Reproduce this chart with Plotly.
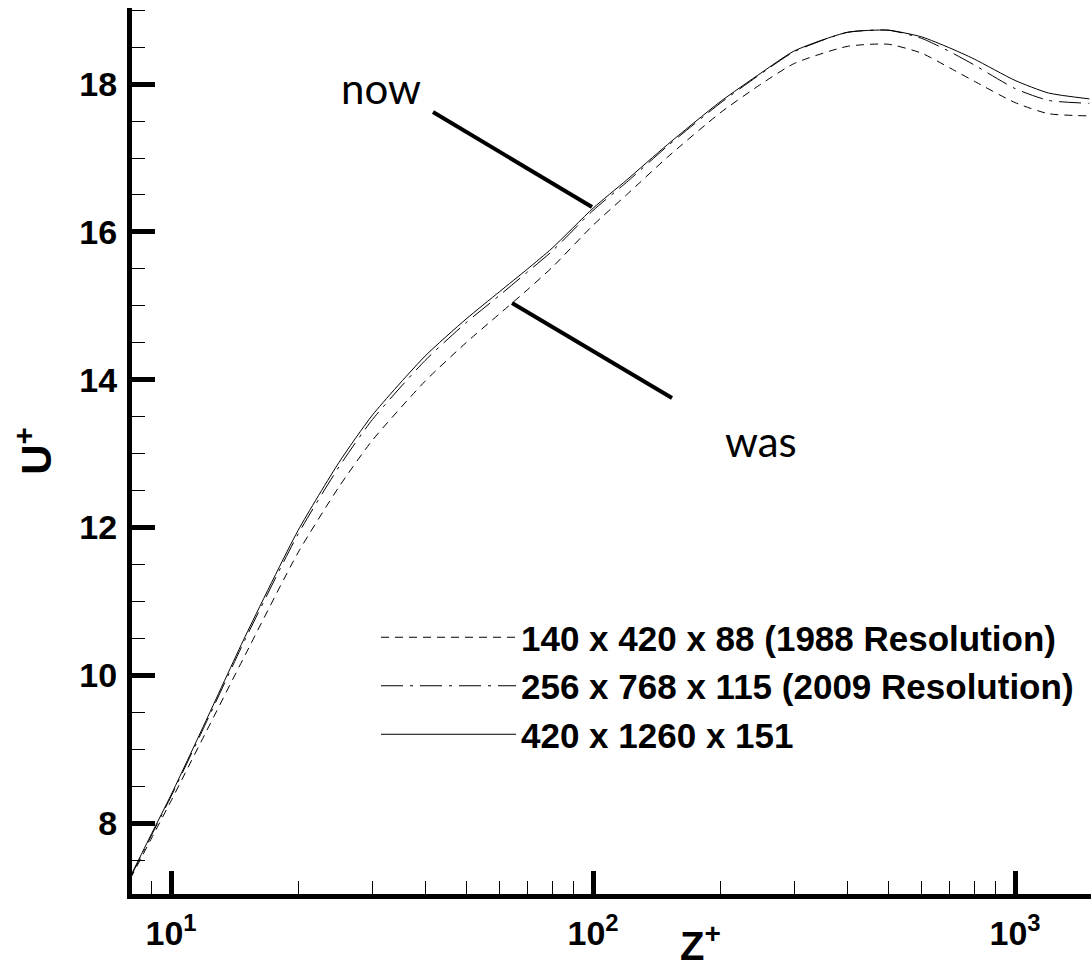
import plotly.graph_objects as go

# ---- data ----
z_plus = [8, 9, 10, 12, 15, 20, 25, 30, 40, 50, 60, 70, 80, 100, 120, 150,
          200, 250, 300, 400, 500, 600, 700, 800, 1000, 1200, 1500]
u_res_1988 = [7.24, 7.80, 8.30, 9.19, 10.28, 11.66, 12.55, 13.18, 13.98, 14.50,
              14.89, 15.22, 15.52, 16.09, 16.50, 17.01, 17.61, 18.00, 18.28,
              18.51, 18.54, 18.42, 18.22, 18.04, 17.75, 17.60, 17.57]
u_res_2009 = [7.26, 7.84, 8.36, 9.31, 10.49, 11.91, 12.82, 13.46, 14.26, 14.77,
              15.14, 15.46, 15.74, 16.29, 16.67, 17.16, 17.74, 18.14, 18.44,
              18.70, 18.73, 18.62, 18.44, 18.26, 17.94, 17.78, 17.74]
u_res_420 = [7.27, 7.86, 8.38, 9.34, 10.53, 11.96, 12.88, 13.52, 14.32, 14.82,
             15.19, 15.50, 15.78, 16.32, 16.70, 17.18, 17.76, 18.15, 18.45,
             18.70, 18.73, 18.64, 18.49, 18.34, 18.05, 17.88, 17.80]
series_names = ["140 x 420 x 88 (1988 Resolution)",
                "256 x 768 x 115 (2009 Resolution)",
                "420 x 1260 x 151"]
x_tickvals = [10, 100, 1000]
x_ticktext = ["10<sup>1</sup>", "10<sup>2</sup>", "10<sup>3</sup>"]
x_minor_vals = [9, 20, 30, 40, 50, 60, 70, 80, 90,
                200, 300, 400, 500, 600, 700, 800, 900]
y_tickvals = [8, 10, 12, 14, 16, 18]

W, H = 1091, 974
L, R, T, B = 132, 0, 8, 80
PW, PH = W - L - R, H - T - B


def px(x):
    return (x - L) / PW


def py(y):
    return (H - B - y) / PH


FONT = "Liberation Sans, Arial, sans-serif"

fig = go.Figure()
styles = [dict(dash="8px,6px"), dict(dash="22px,7px,3px,7px"), dict(dash="solid")]
for name, u, st in zip(series_names, [u_res_1988, u_res_2009, u_res_420], styles):
    fig.add_trace(go.Scatter(
        x=z_plus, y=u, mode="lines", name=name,
        line=dict(color="black", width=1, shape="spline", smoothing=0.6, **st),
    ))

tick_font = dict(family=FONT, size=34, color="black", weight="bold")

fig.update_layout(
    width=W, height=H,
    margin=dict(l=L, r=R, t=T, b=B, autoexpand=False),
    paper_bgcolor="white", plot_bgcolor="white",
    showlegend=True,
    legend=dict(
        x=px(376), y=py(608), xanchor="left", yanchor="top",
        font=dict(family=FONT, size=35, color="black", weight="bold"),
        bgcolor="rgba(0,0,0,0)", itemwidth=135, traceorder="normal",
    ),
    xaxis=dict(
        type="log", range=[0.9075, 3.180],
        showline=True, linewidth=5, linecolor="black", mirror=False,
        showgrid=False, zeroline=False,
        tickmode="array", tickvals=x_tickvals, ticktext=x_ticktext,
        ticks="inside", ticklen=23, tickwidth=5, tickcolor="black",
        tickfont=tick_font, ticklabelstandoff=5,
        minor=dict(tickmode="array", tickvals=x_minor_vals, ticks="inside",
                   ticklen=13, tickwidth=1, tickcolor="black", showgrid=False),
    ),
    yaxis=dict(
        range=[7.04, 19.03],
        showline=True, linewidth=5, linecolor="black", mirror=False,
        showgrid=False, zeroline=False,
        tickmode="array", tickvals=y_tickvals,
        ticks="inside", ticklen=23, tickwidth=5, tickcolor="black",
        tickfont=tick_font, ticklabelstandoff=3,
        minor=dict(dtick=0.5, ticks="inside", ticklen=13, tickwidth=1,
                   tickcolor="black", showgrid=False),
        title=dict(text="U<sup>+</sup>", font=dict(family=FONT, size=42, color="black", weight="bold"),
                   standoff=16),
    ),
    annotations=[
        dict(text="Z<sup>+</sup>", x=px(700), y=py(943), xref="paper", yref="paper",
             xanchor="center", yanchor="middle", showarrow=False,
             font=dict(family=FONT, size=40, color="black", weight="bold")),
        dict(text="now", x=px(381), y=py(88), xref="paper", yref="paper",
             xanchor="center", yanchor="middle",
             showarrow=False, font=dict(family="Lato, sans-serif", size=42, color="black")),
        dict(text="was", x=px(761), y=py(441), xref="paper", yref="paper",
             xanchor="center", yanchor="middle",
             showarrow=False, font=dict(family="Lato, sans-serif", size=42, color="black")),
    ],
    shapes=[
        dict(type="line", xref="paper", yref="paper", x0=px(433), y0=py(112),
             x1=px(592), y1=py(207), line=dict(color="black", width=4)),
        dict(type="line", xref="paper", yref="paper", x0=px(512), y0=py(303),
             x1=px(672), y1=py(398), line=dict(color="black", width=4)),
    ],
)

fig.write_html("out.html")
